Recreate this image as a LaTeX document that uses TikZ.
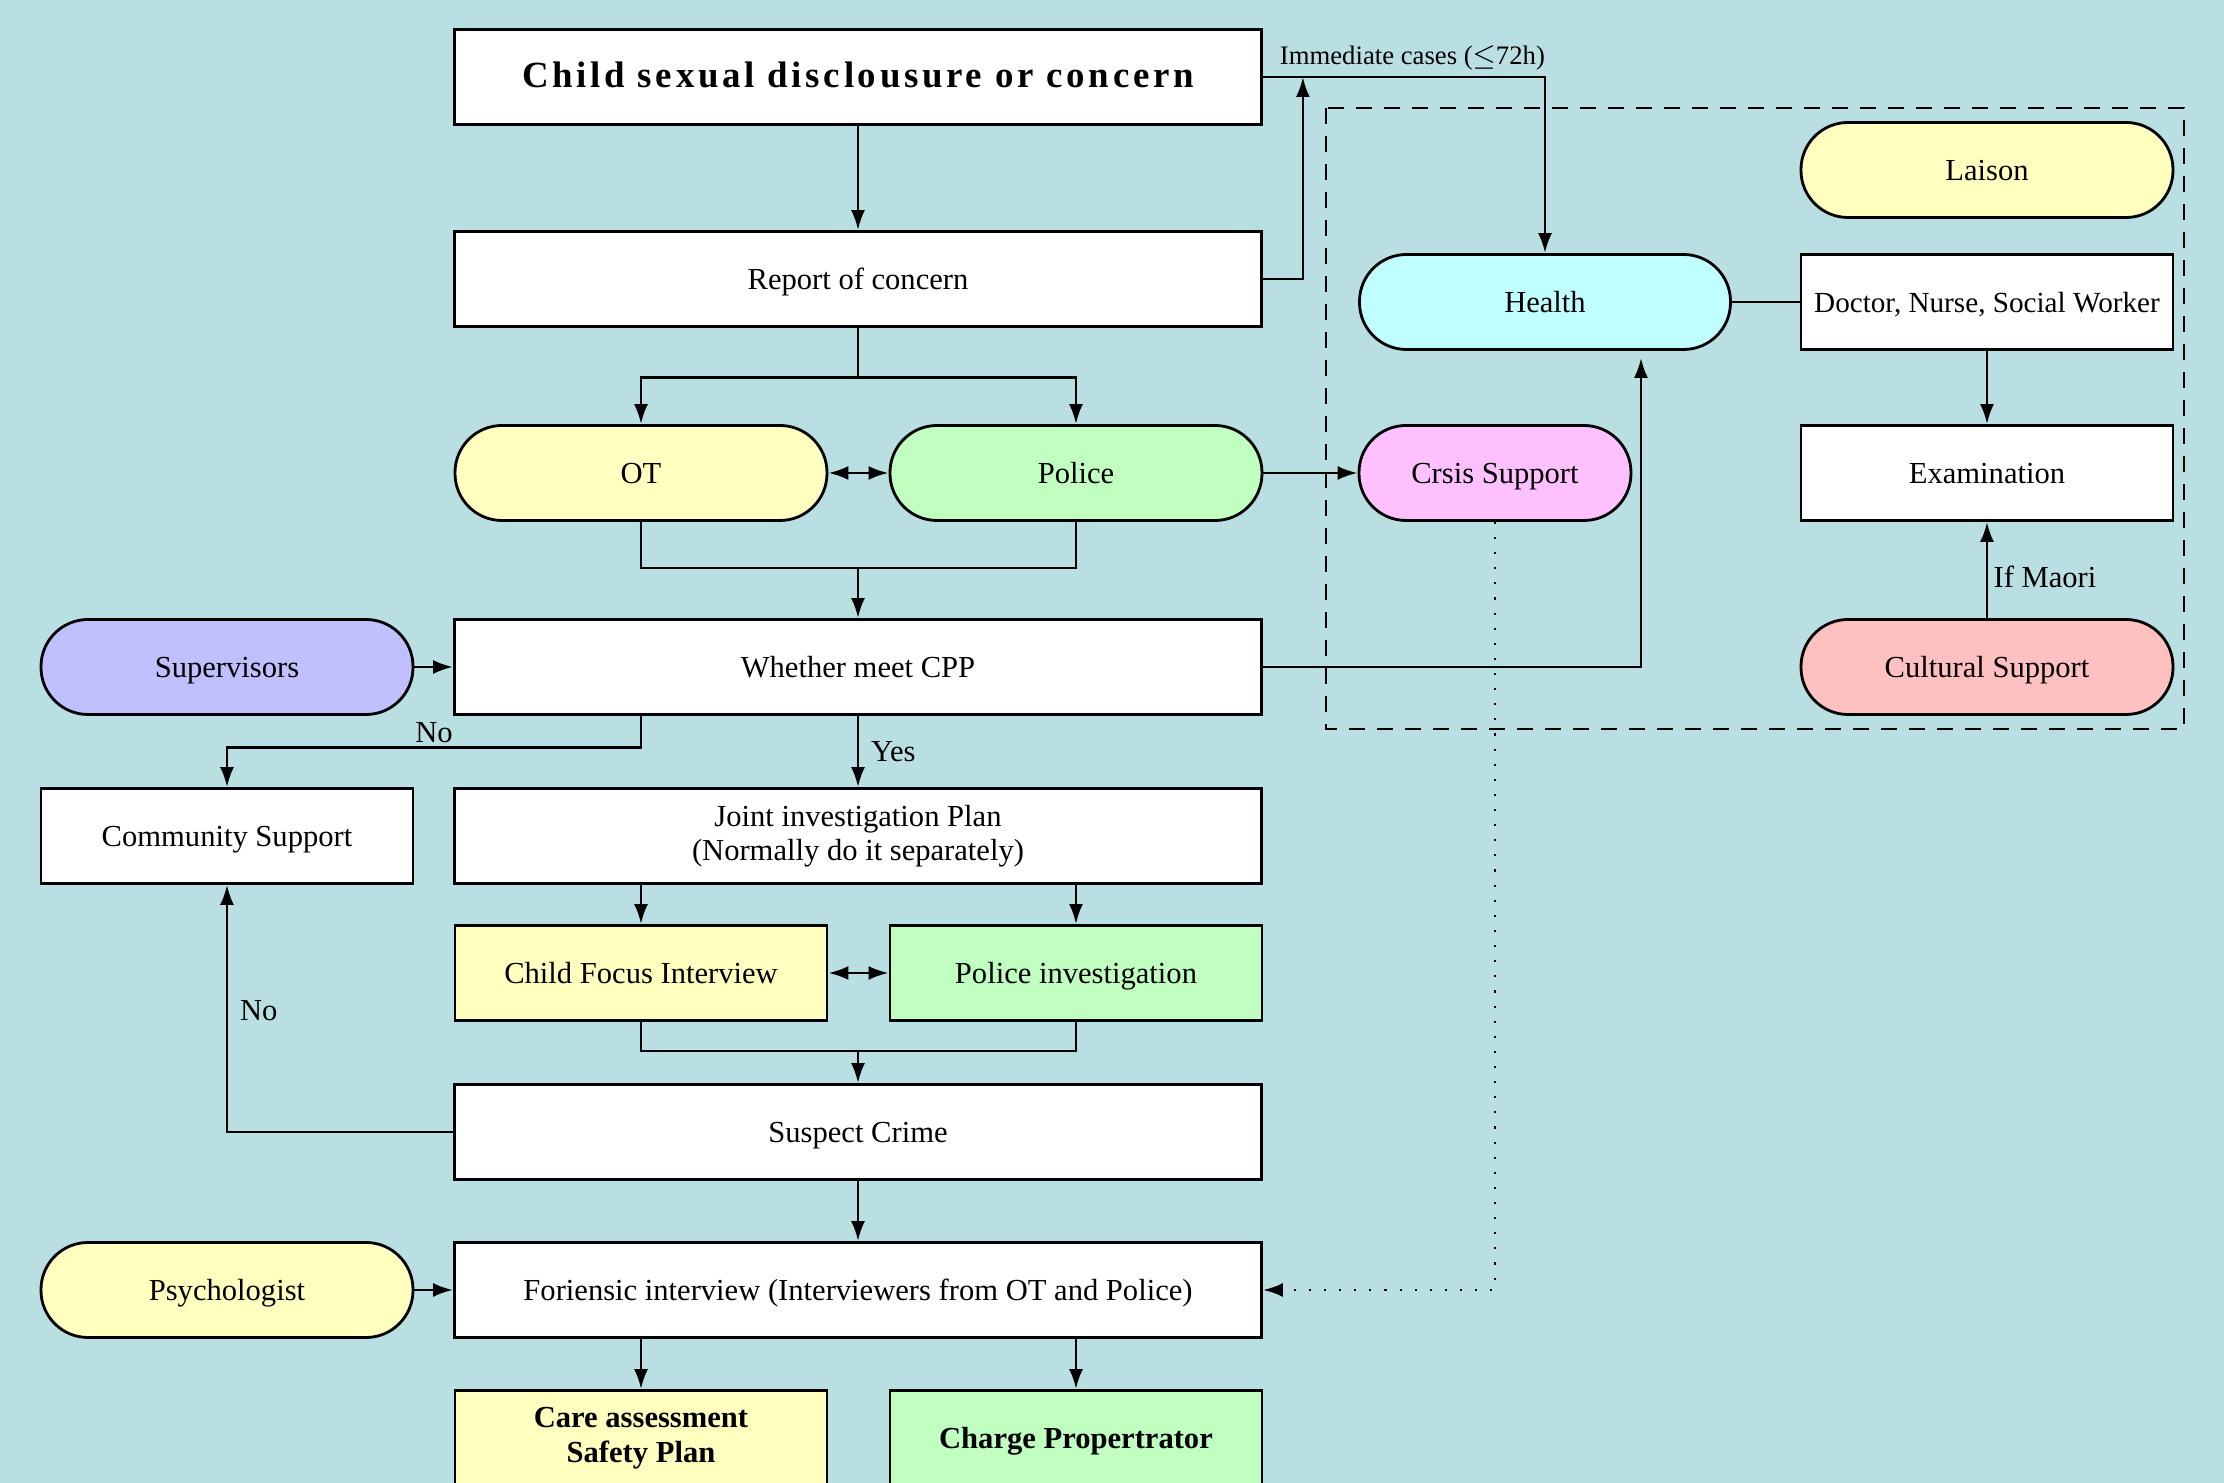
\documentclass[tikz,border=0pt]{standalone}
\usepackage{fontspec}
\setmainfont{Liberation Serif}
\newfontfamily\titlefont[LetterSpace=10]{Liberation Serif}
\usepackage{tikz}
\usetikzlibrary{shapes,arrows.meta,calc}

\definecolor{bgblue}{RGB}{186,223,226}
\definecolor{paleyellow}{RGB}{255,255,192}
\definecolor{palegreen}{RGB}{192,255,192}
\definecolor{palecyan}{RGB}{192,255,255}
\definecolor{palepink}{RGB}{255,192,255}
\definecolor{palelilac}{RGB}{192,192,255}
\definecolor{palered}{RGB}{255,192,192}

\tikzset{
  stagebox/.style={draw, rectangle, fill=white, line width=0.8pt, minimum width=8.07cm, minimum height=0.95cm, align=center, inner sep=1pt, text height=1.6ex, text depth=0.3ex},
  halfbox/.style={stagebox, minimum width=3.72cm},
  pill/.style={halfbox, rounded corners=0.47cm},
  twoline/.style={text height=, text depth=},
  link/.style={line width=0.8pt},
  arr/.style={link, -{Latex[length=2mm,width=1.4mm]}},
  dblarr/.style={link, {Latex[length=2mm,width=1.4mm]}-{Latex[length=2mm,width=1.4mm]}},
  dotarr/.style={arr, dash pattern=on 0.6pt off 3.7pt},
}

\begin{document}
\begin{tikzpicture}[font=\fontsize{8.7}{9.8}\selectfont]
\useasboundingbox (0,0) rectangle (22.24,14.83);
\fill[bgblue] (0,0) rectangle (22.24,14.83);

% health team area
\draw[line width=0.8pt, dash pattern=on 1.6mm off 1.2mm] (13.26,13.75) rectangle (21.84,7.54);

% main column
\node[stagebox] (title) at (8.58,14.06) {\titlefont\bfseries\fontsize{10.5}{12}\selectfont Child sexual disclousure or concern};
\node[stagebox] (report) at (8.58,12.04) {Report of concern};
\node[pill, fill=paleyellow] (ot) at (6.41,10.10) {OT};
\node[pill, fill=palegreen] (police) at (10.76,10.10) {Police};
\node[stagebox] (whether) at (8.58,8.16) {Whether meet CPP};
\node[stagebox, twoline] (joint) at (8.58,6.47) {Joint investigation Plan\\(Normally do it separately)};
\node[halfbox, fill=paleyellow] (cfi) at (6.41,5.10) {Child Focus Interview};
\node[halfbox, fill=palegreen] (pinv) at (10.76,5.10) {Police investigation};
\node[stagebox] (suspect) at (8.58,3.51) {Suspect Crime};
\node[stagebox] (forensic) at (8.58,1.93) {Foriensic interview (Interviewers from OT and Police)};
\node[halfbox, twoline, fill=paleyellow, font=\bfseries\fontsize{8.7}{10}\selectfont] (care) at (6.41,0.45) {Care assessment\\Safety Plan};
\node[halfbox, fill=palegreen, font=\bfseries\fontsize{8.7}{10}\selectfont] (charge) at (10.76,0.45) {Charge Propertrator};

% left column
\node[pill, fill=palelilac] (supervisors) at (2.27,8.16) {Supervisors};
\node[halfbox] (community) at (2.27,6.47) {Community Support};
\node[pill, fill=paleyellow] (psych) at (2.27,1.93) {Psychologist};

% right side
\node[pill, fill=paleyellow] (laison) at (19.87,13.13) {Laison};
\node[pill, fill=palecyan, minimum width=3.71cm] (health) at (15.45,11.81) {Health};
\node[halfbox, font=\fontsize{8.3}{9.8}\selectfont] (doctor) at (19.87,11.81) {Doctor, Nurse, Social Worker};
\node[halfbox] (exam) at (19.87,10.10) {Examination};
\node[pill, fill=palered] (cultural) at (19.87,8.16) {Cultural Support};
\node[pill, fill=palepink, minimum width=2.72cm] (crisis) at (14.95,10.10) {Crsis Support};

\coordinate (imm) at ($(title.east)+(0.4,0)$);
\coordinate (split1) at ($(report.south)+(0,-0.5)$);
\coordinate (m1) at ($(whether.north)+(0,0.5)$);
\coordinate (m2) at ($(suspect.north)+(0,0.32)$);

\draw[arr] (title) -- (report);
\draw[arr] (title.east) -| node[pos=0.265, above, inner sep=1.5pt, font=\fontsize{7.6}{9}\selectfont] {Immediate cases ($\leq$72h)} (health.north);
\draw[arr] (report.east) -| (imm);
\draw[link] (report.south) -- (split1);
\draw[arr] (split1) -| (ot.north);
\draw[arr] (split1) -| (police.north);
\draw[dblarr] (ot) -- (police);
\draw[link] (ot.south) |- (m1) -| (police.south);
\draw[arr] (m1) -- (whether.north);
\draw[arr] (police) -- (crisis);
\draw[arr] (whether.east) -| ($(health.south)+(0.96,-0.07)$);
\draw[link] (health) -- (doctor);
\draw[arr] (doctor) -- (exam);
\draw[arr] (cultural) -- node[pos=0.43, right, inner sep=1.5pt] {If Maori} (exam);
\draw[arr] (supervisors) -- (whether);
\draw[arr] (whether.south -| ot.south) -- ++(0,-0.32) -| node[pos=0.25, above, inner sep=1pt] {No} (community.north);
\draw[arr] (whether) -- node[right] {Yes} (joint);
\draw[arr] (joint.south -| cfi.north) -- (cfi.north);
\draw[arr] (joint.south -| pinv.north) -- (pinv.north);
\draw[dblarr] (cfi) -- (pinv);
\draw[link] (cfi.south) |- (m2) -| (pinv.south);
\draw[arr] (m2) -- (suspect.north);
\draw[arr] (suspect.west) -| node[pos=0.745, right] {No} (community.south);
\draw[arr] (suspect) -- (forensic);
\draw[arr] (psych) -- (forensic);
\draw[dotarr] (crisis.south) |- (forensic.east);
\draw[arr] (forensic.south -| care.north) -- (care.north);
\draw[arr] (forensic.south -| charge.north) -- (charge.north);
\end{tikzpicture}
\end{document}
